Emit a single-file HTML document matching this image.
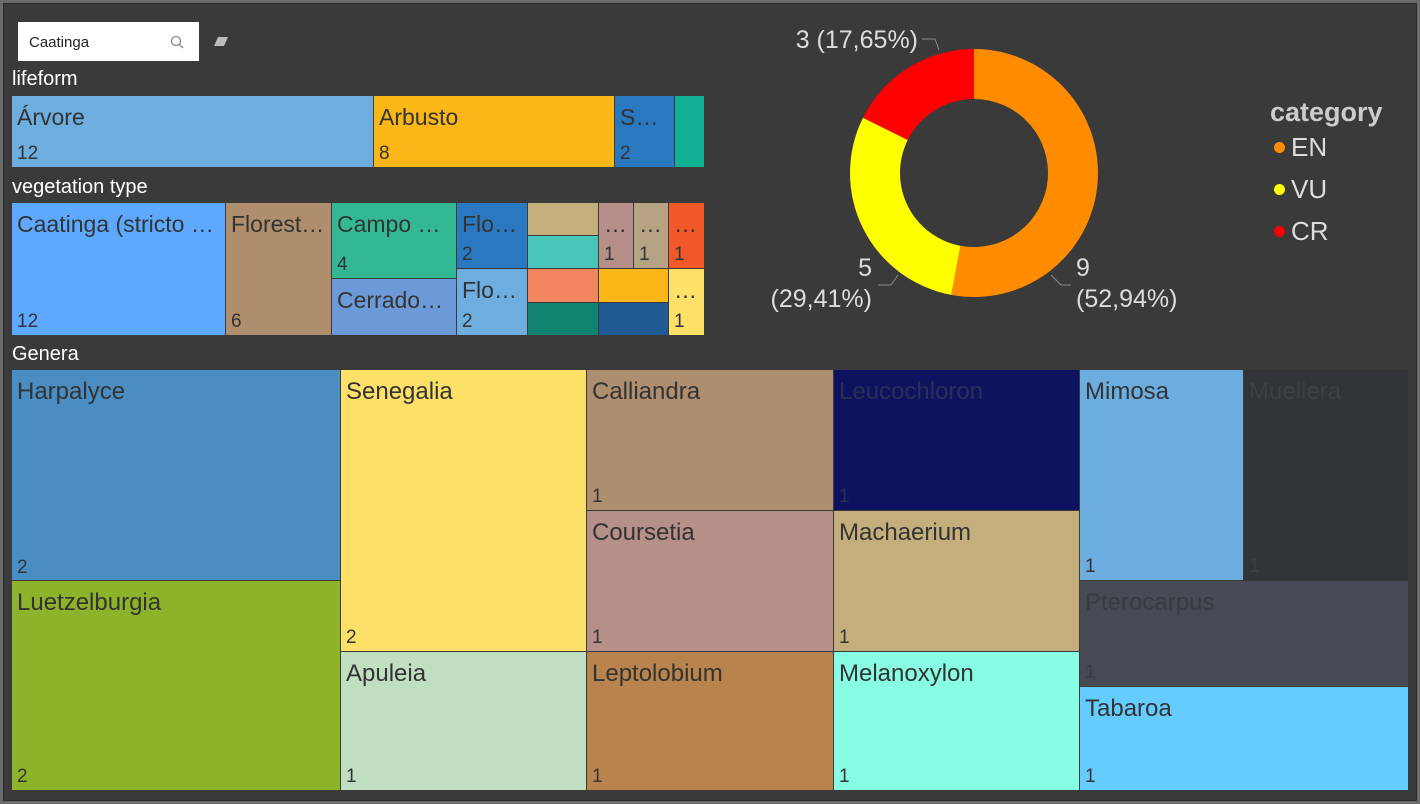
<!DOCTYPE html>
<html><head><meta charset="utf-8">
<style>
*{box-sizing:border-box;margin:0;padding:0}
body{width:1420px;height:804px;background:#6b6b6b;font-family:"Liberation Sans",sans-serif;overflow:hidden;position:relative}
#frame{position:absolute;left:3px;top:3px;width:1414px;height:798px;background:#3a3a3a;border:1px solid #2a2a2a}
.t{position:absolute;border:1px solid #3a3a3a;color:#333;font-size:23px;overflow:hidden;white-space:nowrap}
.t .n{position:absolute;left:5px;top:8px}
.g{font-size:24px}
.t .v{position:absolute;left:5px;bottom:2px;font-size:19px}
.title{position:absolute;color:#fff;font-size:20px}
</style></head><body>
<div id="frame"></div>

<div style="position:absolute;left:18px;top:22px;width:181px;height:39px;background:#fff;font-size:15px;color:#222;padding:12px 0 0 11px">Caatinga
<svg style="position:absolute;left:152px;top:13px" width="14" height="14"><circle cx="6" cy="6" r="4.5" stroke="#888" fill="none" stroke-width="1.3"/><line x1="9.3" y1="9.3" x2="13" y2="13" stroke="#888" stroke-width="1.3"/></svg></div>
<svg style="position:absolute;left:212px;top:34px" width="18" height="14"><path d="M2 12 L6 3 L16 3 L12 12 Z" fill="#bbb"/></svg>

<div class="title" style="left:12px;top:68px">lifeform</div>
<div class="t" style="left:11px;top:95px;width:363px;height:73px;background:#6EAEDE"><span class="n">Árvore</span><span class="v">12</span></div>
<div class="t" style="left:373px;top:95px;width:242px;height:73px;background:#FBB717"><span class="n">Arbusto</span><span class="v">8</span></div>
<div class="t" style="left:614px;top:95px;width:61px;height:73px;background:#2A78BF"><span class="n">S…</span><span class="v">2</span></div>
<div class="t" style="left:674px;top:95px;width:31px;height:73px;background:#11B194"></div>

<div class="title" style="left:12px;top:176px">vegetation type</div>
<div class="t" style="left:11px;top:202px;width:215px;height:134px;background:#5CA9FF"><span class="n">Caatinga (stricto …</span><span class="v">12</span></div>
<div class="t" style="left:225px;top:202px;width:107px;height:134px;background:#AE8E6D"><span class="n">Florest…</span><span class="v">6</span></div>
<div class="t" style="left:331px;top:202px;width:126px;height:77px;background:#33B894"><span class="n">Campo …</span><span class="v">4</span></div>
<div class="t" style="left:331px;top:278px;width:126px;height:58px;background:#6C9AD8"><span class="n">Cerrado…</span></div>
<div class="t" style="left:456px;top:202px;width:72px;height:67px;background:#2A78BF"><span class="n">Flo…</span><span class="v">2</span></div>
<div class="t" style="left:456px;top:268px;width:72px;height:68px;background:#6EAEDE"><span class="n">Flo…</span><span class="v">2</span></div>
<div class="t" style="left:527px;top:202px;width:72px;height:34px;background:#C4AE7C"></div>
<div class="t" style="left:527px;top:235px;width:72px;height:34px;background:#49C6B9"></div>
<div class="t" style="left:598px;top:202px;width:36px;height:67px;background:#B58F88"><span class="n">…</span><span class="v">1</span></div>
<div class="t" style="left:633px;top:202px;width:36px;height:67px;background:#B6A384"><span class="n">…</span><span class="v">1</span></div>
<div class="t" style="left:668px;top:202px;width:37px;height:67px;background:#F1582A"><span class="n">…</span><span class="v">1</span></div>
<div class="t" style="left:527px;top:268px;width:72px;height:35px;background:#F2865E"></div>
<div class="t" style="left:527px;top:302px;width:72px;height:34px;background:#108470"></div>
<div class="t" style="left:598px;top:268px;width:71px;height:35px;background:#FBB717"></div>
<div class="t" style="left:598px;top:302px;width:71px;height:34px;background:#1F5A95"></div>
<div class="t" style="left:668px;top:268px;width:37px;height:68px;background:#FDE068"><span class="n">…</span><span class="v">1</span></div>

<div class="title" style="left:12px;top:343px">Genera</div>
<div class="t g" style="left:11px;top:369px;width:331px;height:213px;background:#4A8DC2"><span class="n">Harpalyce</span><span class="v">2</span></div>
<div class="t g" style="left:11px;top:580px;width:331px;height:211px;background:#8DB32A"><span class="n">Luetzelburgia</span><span class="v">2</span></div>
<div class="t g" style="left:340px;top:369px;width:248px;height:283px;background:#FDE068"><span class="n">Senegalia</span><span class="v">2</span></div>
<div class="t g" style="left:340px;top:651px;width:248px;height:140px;background:#C0DFC1"><span class="n">Apuleia</span><span class="v">1</span></div>
<div class="t g" style="left:586px;top:369px;width:248px;height:142px;background:#AD8E6E"><span class="n">Calliandra</span><span class="v">1</span></div>
<div class="t g" style="left:586px;top:510px;width:248px;height:142px;background:#B58F88"><span class="n">Coursetia</span><span class="v">1</span></div>
<div class="t g" style="left:586px;top:651px;width:248px;height:140px;background:#B8834C"><span class="n">Leptolobium</span><span class="v">1</span></div>
<div class="t g" style="left:833px;top:369px;width:248px;height:142px;background:#0E1360;color:#2a2f55"><span class="n">Leucochloron</span><span class="v">1</span></div>
<div class="t g" style="left:833px;top:510px;width:248px;height:142px;background:#C4AE7C"><span class="n">Machaerium</span><span class="v">1</span></div>
<div class="t g" style="left:833px;top:651px;width:248px;height:140px;background:#87FDE4"><span class="n">Melanoxylon</span><span class="v">1</span></div>
<div class="t g" style="left:1079px;top:369px;width:165px;height:212px;background:#6CADDF"><span class="n">Mimosa</span><span class="v">1</span></div>
<div class="t g" style="left:1243px;top:369px;width:166px;height:212px;background:#313539;color:#3c4044"><span class="n">Muellera</span><span class="v">1</span></div>
<div class="t g" style="left:1079px;top:580px;width:330px;height:107px;background:#464A54;color:#383b42"><span class="n">Pterocarpus</span><span class="v">1</span></div>
<div class="t g" style="left:1079px;top:686px;width:330px;height:105px;background:#64CCFF"><span class="n">Tabaroa</span><span class="v">1</span></div>

<svg id="donut" style="position:absolute;left:720px;top:0" width="700" height="340"></svg>

<script>
const categories=["EN","VU","CR"];
const values=[9,5,3];
const colors=["#FF8C00","#FFFF00","#FF0000"];
const pctLabels=["52,94%","29,41%","17,65%"];
const svg=document.getElementById('donut');
const NS="http://www.w3.org/2000/svg";
const cx=254,cy=173,R=124,r=74;
const total=values.reduce((a,b)=>a+b,0);
function ang(v){return v/total*2*Math.PI;}
function pt(a,rad){return [cx+rad*Math.sin(a),cy-rad*Math.cos(a)];}
let a0=0;
values.forEach((v,i)=>{
  const a1=a0+ang(v);
  const large=(a1-a0)>Math.PI?1:0;
  const p1=pt(a0,R),p2=pt(a1,R),p3=pt(a1,r),p4=pt(a0,r);
  const p=document.createElementNS(NS,'path');
  p.setAttribute('d',`M${p1} A${R},${R} 0 ${large} 1 ${p2} L${p3} A${r},${r} 0 ${large} 0 ${p4}Z`);
  p.setAttribute('fill',colors[i]);
  
  
  svg.appendChild(p);
  a0=a1;
});
function txt(x,y,s,anchor,name){
  const t=document.createElementNS(NS,'text');
  t.setAttribute('x',x);t.setAttribute('y',y);t.setAttribute('fill','#ddd');
  t.setAttribute('font-size','25');t.setAttribute('text-anchor',anchor);
  t.setAttribute('font-family','Liberation Sans, sans-serif');
  t.textContent=s;
  
  
  svg.appendChild(t);
}
function ln(d){const l=document.createElementNS(NS,'path');l.setAttribute('d',d);l.setAttribute('stroke','#888');l.setAttribute('fill','none');svg.appendChild(l);}
txt(356,276,values[0],'start','label-en-value');
txt(356,307,'('+pctLabels[0]+')','start','label-en-pct');
ln('M331 275 L341 285 L351 285');
txt(152,276,values[1],'end','label-vu-value');
txt(152,307,'('+pctLabels[1]+')','end','label-vu-pct');
ln('M178 275 L171 285 L158 285');
txt(198,48,values[2]+' ('+pctLabels[2]+')','end','label-cr');
ln('M202 39 L215 39 L219 50');
</script>

<div style="position:absolute;left:1270px;top:97px;color:#ddd">
<div style="font-size:27px;font-weight:bold;color:#ccc">category</div>
<div style="font-size:26px;margin-top:4px"><span style="display:inline-block;width:11px;height:11px;border-radius:50%;background:#FF8C00;margin:0 6px 3px 4px"></span>EN</div>
<div style="font-size:26px;margin-top:11px"><span style="display:inline-block;width:11px;height:11px;border-radius:50%;background:#FFFF00;margin:0 6px 3px 4px"></span>VU</div>
<div style="font-size:26px;margin-top:11px"><span style="display:inline-block;width:11px;height:11px;border-radius:50%;background:#FF0000;margin:0 6px 3px 4px"></span>CR</div>
</div>
</body></html>
